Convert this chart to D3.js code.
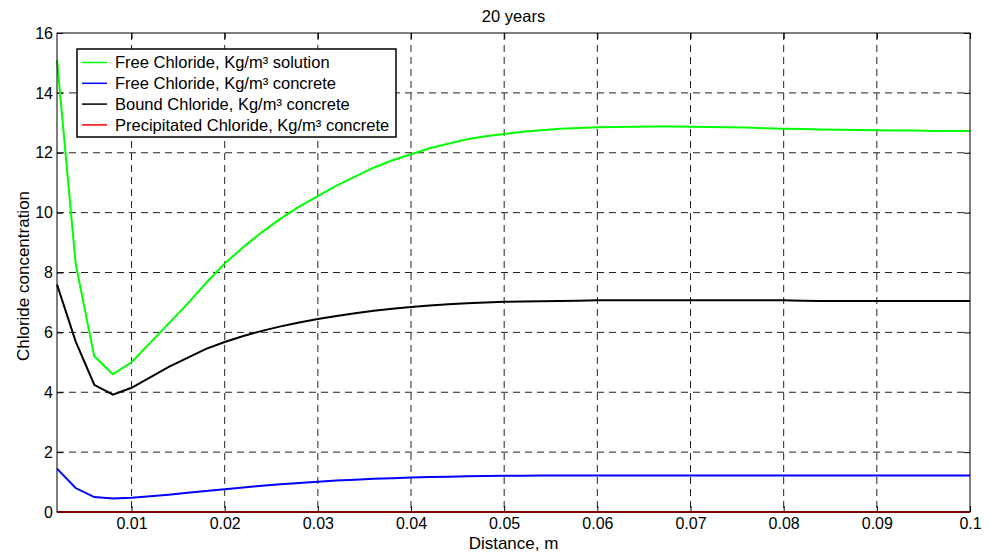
<!DOCTYPE html>
<html>
<head>
<meta charset="utf-8">
<script src="https://cdn.jsdelivr.net/npm/d3@7"></script>
<style>
  body { margin: 0; background: #fff; }
  svg { font-family: "Liberation Sans", Arial, sans-serif; }
  .grid line { stroke: #222; stroke-dasharray: 7,5; stroke-width: 1; }
</style>
</head>
<body>
<div id="chart"></div>
<script>
// Distance (m) sampled every 2 mm
const distance = [
  0.002, 0.004, 0.006, 0.008, 0.010, 0.012, 0.014, 0.016, 0.018, 0.020,
  0.022, 0.024, 0.026, 0.028, 0.030, 0.032, 0.034, 0.036, 0.038, 0.040,
  0.042, 0.044, 0.046, 0.048, 0.050, 0.052, 0.054, 0.056, 0.058, 0.060,
  0.062, 0.064, 0.066, 0.068, 0.070, 0.072, 0.074, 0.076, 0.078, 0.080,
  0.082, 0.084, 0.086, 0.088, 0.090, 0.092, 0.094, 0.096, 0.098, 0.100
];

const freeSolution = [
  15.1, 8.3, 5.2, 4.6, 5.0, 5.65, 6.3, 6.95, 7.65, 8.3,
  8.85, 9.35, 9.8, 10.2, 10.55, 10.9, 11.2, 11.5, 11.75, 11.95,
  12.15, 12.3, 12.45, 12.55, 12.63, 12.7, 12.75, 12.8, 12.83, 12.85,
  12.86, 12.87, 12.88, 12.88, 12.87, 12.86, 12.85, 12.84, 12.82, 12.8,
  12.79, 12.78, 12.77, 12.76, 12.75, 12.74, 12.74, 12.73, 12.73, 12.73
];

const freeConcrete = [
  1.45, 0.8, 0.5, 0.45, 0.48, 0.53, 0.58, 0.64, 0.7, 0.76,
  0.82, 0.88, 0.93, 0.97, 1.01, 1.05, 1.08, 1.11, 1.13, 1.15,
  1.17, 1.18, 1.19, 1.2, 1.21, 1.21, 1.22, 1.22, 1.22, 1.22,
  1.22, 1.22, 1.22, 1.22, 1.22, 1.22, 1.22, 1.22, 1.22, 1.22,
  1.22, 1.22, 1.22, 1.22, 1.22, 1.22, 1.22, 1.22, 1.22, 1.22
];

const boundConcrete = [
  7.6, 5.7, 4.25, 3.92, 4.15, 4.5, 4.85, 5.15, 5.45, 5.68,
  5.88, 6.05, 6.2, 6.33, 6.45, 6.55, 6.64, 6.72, 6.79, 6.85,
  6.9, 6.94, 6.97, 7.0, 7.02, 7.03, 7.04, 7.05, 7.06, 7.07,
  7.07, 7.07, 7.07, 7.07, 7.07, 7.07, 7.07, 7.07, 7.07, 7.07,
  7.06, 7.05, 7.05, 7.05, 7.05, 7.05, 7.05, 7.05, 7.05, 7.05
];

const precipitated = distance.map(() => 0);

const xTicks = [0.01, 0.02, 0.03, 0.04, 0.05, 0.06, 0.07, 0.08, 0.09, 0.1];
const yTicks = [0, 2, 4, 6, 8, 10, 12, 14, 16];

const seriesNames = [
  "Free Chloride, Kg/m³ solution",
  "Free Chloride, Kg/m³ concrete",
  "Bound Chloride, Kg/m³ concrete",
  "Precipitated Chloride, Kg/m³ concrete"
];
const seriesColors = ["#00ff00", "#0000ff", "#000000", "#ff0000"];
const seriesValues = [freeSolution, freeConcrete, boundConcrete, precipitated];

const width = 990, height = 552;
const margin = { top: 33, right: 20, bottom: 40, left: 57 };
const innerW = width - margin.left - margin.right;
const innerH = height - margin.top - margin.bottom;

const svg = d3.select("#chart").append("svg")
  .attr("width", width)
  .attr("height", height);

const g = svg.append("g").attr("transform", `translate(${margin.left},${margin.top})`);

const x = d3.scaleLinear().domain([0.002, 0.1]).range([0, innerW]);
const y = d3.scaleLinear().domain([0, 16]).range([innerH, 0]);

// Dashed grid
const grid = g.append("g").attr("class", "grid");
grid.selectAll("line.v").data(xTicks.filter(d => d < 0.1)).join("line")
  .attr("class", "v")
  .attr("x1", d => x(d)).attr("x2", d => x(d))
  .attr("y1", 0).attr("y2", innerH);
grid.selectAll("line.h").data(yTicks.filter(d => d > 0 && d < 16)).join("line")
  .attr("class", "h")
  .attr("x1", 0).attr("x2", innerW)
  .attr("y1", d => y(d)).attr("y2", d => y(d));

// Inward ticks on all four sides, like the original plotting tool
const tickLen = 6;
const axisFont = 16;
const xBottom = g.append("g").attr("transform", `translate(0,${innerH})`)
  .call(d3.axisBottom(x).tickValues(xTicks).tickFormat(d3.format("~g")).tickSizeInner(-tickLen).tickSizeOuter(0).tickPadding(6));
const xTop = g.append("g")
  .call(d3.axisTop(x).tickValues(xTicks).tickFormat("").tickSizeInner(-tickLen).tickSizeOuter(0));
const yLeft = g.append("g")
  .call(d3.axisLeft(y).tickValues(yTicks).tickSizeInner(-tickLen).tickSizeOuter(0).tickPadding(4));
const yRight = g.append("g").attr("transform", `translate(${innerW},0)`)
  .call(d3.axisRight(y).tickValues(yTicks).tickFormat("").tickSizeInner(-tickLen).tickSizeOuter(0));

[xBottom, xTop, yLeft, yRight].forEach(a => {
  a.select(".domain").remove();
  a.selectAll(".tick line").attr("stroke", "#000");
  a.selectAll("text").attr("font-size", axisFont).attr("fill", "#000")
    .attr("font-family", "Liberation Sans, Arial, sans-serif");
});

// Lines
const line = d3.line().x((d, i) => x(distance[i])).y(d => y(d));
g.append("g").selectAll("path").data(seriesValues).join("path")
  .attr("fill", "none")
  .attr("stroke", (d, i) => seriesColors[i])
  .attr("stroke-width", 2)
  .attr("d", line);

// Axes box
g.append("rect")
  .attr("width", innerW).attr("height", innerH)
  .attr("fill", "none").attr("stroke", "#000").attr("stroke-width", 1);

// Legend
const legend = g.append("g").attr("transform", "translate(20,16)");
legend.append("rect")
  .attr("width", 319).attr("height", 88)
  .attr("fill", "#fff").attr("stroke", "#000").attr("stroke-width", 1.5);
const rows = legend.selectAll("g.row").data(seriesNames).join("g")
  .attr("class", "row")
  .attr("transform", (d, i) => `translate(0,${13.5 + i * 20.8})`);
rows.append("line")
  .attr("x1", 5).attr("x2", 30)
  .attr("stroke", (d, i) => seriesColors[i]).attr("stroke-width", 1.5);
rows.append("text")
  .attr("x", 38).attr("dy", "0.35em")
  .attr("font-size", 16.5).attr("fill", "#000")
  .text(d => d);

// Title and axis labels
svg.append("text")
  .attr("x", margin.left + innerW / 2).attr("y", 22)
  .attr("text-anchor", "middle").attr("font-size", 16.5)
  .text("20 years");
svg.append("text")
  .attr("x", margin.left + innerW / 2).attr("y", 549)
  .attr("text-anchor", "middle").attr("font-size", 17)
  .text("Distance, m");
svg.append("text")
  .attr("transform", `translate(29,276) rotate(-90)`)
  .attr("text-anchor", "middle").attr("font-size", 17)
  .text("Chloride concentration");
</script>
</body>
</html>
